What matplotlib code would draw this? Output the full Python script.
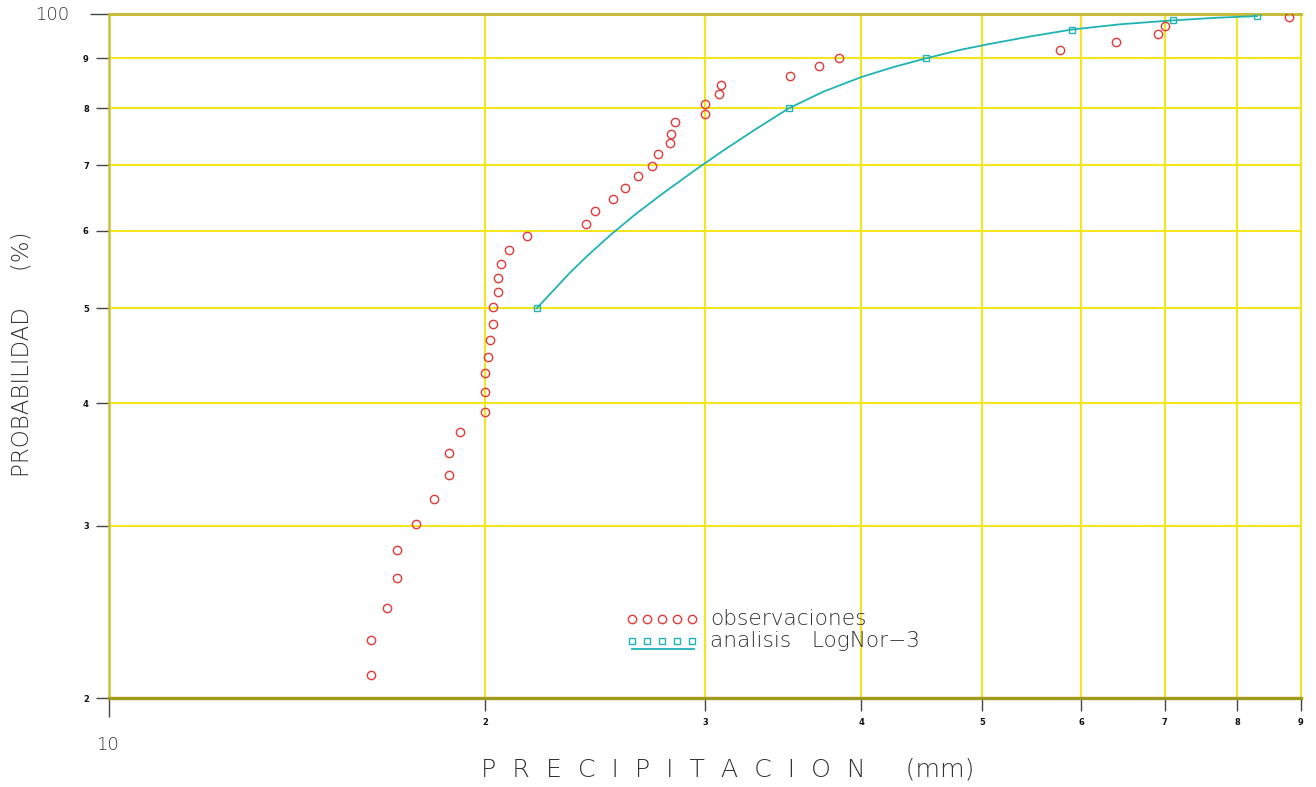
import matplotlib
matplotlib.use('Agg')
import matplotlib.pyplot as plt

###########################################
####   DATA   #############################
###########################################

# Observed precipitation (mm) and its plotting-position probability (%)
obs_mm = [16.2, 16.2, 16.7, 17.0, 17.0, 17.6, 18.2, 18.7, 18.7, 19.1,
          20.0, 20.0, 20.0, 20.1, 20.2, 20.3, 20.3, 20.5, 20.5, 20.6,
          20.9, 21.6, 24.1, 24.5, 25.3, 25.9, 26.5, 27.2, 27.5, 28.1,
          28.2, 28.4, 30.0, 30.0, 30.8, 30.9, 35.1, 37.0, 38.4, 57.7,
          64.0, 69.2, 70.1, 88.1]
obs_prob = [21.1, 22.9, 24.7, 26.5, 28.3, 30.1, 31.9, 33.8, 35.6, 37.4,
            39.2, 41.1, 42.9, 44.6, 46.4, 48.2, 50.1, 51.9, 53.7, 55.5,
            57.4, 59.2, 61.0, 62.8, 64.6, 66.4, 68.2, 69.9, 71.8, 73.7,
            75.4, 77.4, 79.0, 80.9, 82.7, 84.6, 86.4, 88.3, 90.0, 91.7,
            93.6, 95.4, 97.2, 99.1]

# LogNormal (3 param) fitted curve
fit_mm = [22.0, 23.4, 24.2, 25.2, 26.4, 27.8, 29.6, 31.0, 33.0,
          35.0, 37.3, 40.0, 42.5, 45.1, 48.0, 50.5, 54.5, 59.0, 64.5,
          71.1, 77.0, 83.0]
fit_prob = [50.0, 54.4, 56.7, 59.4, 62.4, 65.6, 69.5, 72.4, 76.3,
            80.0, 83.2, 86.1, 88.2, 90.0, 91.8, 93.0, 94.7, 96.3, 97.5,
            98.4, 99.0, 99.4]

# design quantiles marked on the fitted curve
quant_mm = [22.0, 35.0, 45.1, 59.0, 71.1, 83.0]
quant_prob = [50.0, 80.0, 90.0, 96.3, 98.4, 99.4]

x_ticks = [10, 20, 30, 40, 50, 60, 70, 80, 90]
x_tick_labels = ['', '2', '3', '4', '5', '6', '7', '8', '9']
y_ticks = [20, 30, 40, 50, 60, 70, 80, 90, 100]
y_tick_labels = ['2', '3', '4', '5', '6', '7', '8', '9', '']

###########################################
####   STYLE   ############################
###########################################

W, H = 1316, 787
red = '#e23a3a'
cyan = '#1fb3b3'
grid_yellow = '#f3e51e'
txt = '#333333'
font = ['DejaVu Sans']

fig = plt.figure(figsize=(W / 100, H / 100), dpi=100)
ax = fig.add_axes([109 / W, 1 - 698 / H, 1192 / W, 684.5 / H])

ax.set_xscale('log')
ax.set_yscale('log')
ax.set_xlim(10, 90)
ax.set_ylim(20, 100)

ax.set_xticks(x_ticks)
ax.set_xticklabels(x_tick_labels)
ax.set_yticks(y_ticks)
ax.set_yticklabels(y_tick_labels)
ax.minorticks_off()
ax.tick_params(axis='both', length=9.5, width=1, color='#444',
               labelsize=6, labelcolor='#111', pad=5)
for lab in ax.get_xticklabels() + ax.get_yticklabels():
    lab.set_fontweight('bold')
    lab.set_family(font)

# longer ticks at the decade ends
ax.xaxis.get_major_ticks()[0].tick1line.set_markersize(14)
ax.yaxis.get_major_ticks()[-1].tick1line.set_markersize(14)

ax.grid(True, which='major', color=grid_yellow, lw=1.5, zorder=0)
ax.set_axisbelow(True)

ax.spines['left'].set_color('#c9c13c')
ax.spines['left'].set_linewidth(1.8)
ax.spines['bottom'].set_color('#a09b1c')
ax.spines['bottom'].set_linewidth(2.4)
ax.spines['top'].set_color('#c4bc3c')
ax.spines['top'].set_linewidth(2.2)
ax.spines['right'].set_color(grid_yellow)
ax.spines['right'].set_linewidth(1.5)

###########################################
####   MARKS   ############################
###########################################

ax.plot(fit_mm, fit_prob, '-', color=cyan, lw=1.3, zorder=3)
ax.plot(quant_mm, quant_prob, 's', mfc='none', mec=cyan, ms=4.5,
        mew=1.0, zorder=4)
ax.plot(obs_mm, obs_prob, 'o', mfc='none', mec=red, ms=6, mew=1.0,
        zorder=5)

# hand-drawn legend, in axes fraction
leg_x = [(p - 109) / 1192 for p in [632, 647, 662, 677, 692]]
ax.plot(leg_x, [(698 - 619) / 684] * 5, 'o', mfc='none', mec=red, ms=6,
        mew=1.0, transform=ax.transAxes, clip_on=False, zorder=5)
ax.plot(leg_x, [(698 - 641) / 684] * 5, 's', mfc='none', mec=cyan, ms=4.5,
        mew=1.0, transform=ax.transAxes, clip_on=False, zorder=5)
ax.plot([(632 - 109) / 1192, (694 - 109) / 1192],
        [(698 - 649.5) / 684] * 2, '-', color=cyan, lw=1.3,
        transform=ax.transAxes, clip_on=False, zorder=5)
ax.text((710 - 109) / 1192, (698 - 619) / 684, 'observaciones',
        transform=ax.transAxes, ha='left', va='center', fontsize=15.6,
        color=txt, family=font, fontweight='light')
ax.text((710 - 109) / 1192, (698 - 641) / 684, 'analisis   LogNor\u22123',
        transform=ax.transAxes, ha='left', va='center', fontsize=15.6,
        color=txt, family=font, fontweight='light')

###########################################
####   LABELS   ###########################
###########################################

fig.text(107 / W, 1 - 745 / H, '10', ha='center', va='center',
         fontsize=13, color=txt, family=font, fontweight='light')
fig.text(52 / W, 1 - 15 / H, '100', ha='center', va='center',
         fontsize=13, color=txt, family=font, fontweight='light')

fig.text(728 / W, 1 - 769 / H,
         '  '.join('PRECIPITACION') + '     (mm)',
         ha='center', va='center', fontsize=18.2, color=txt,
         family=font, fontweight='light')
fig.text(22 / W, 1 - 354 / H, 'PROBABILIDAD     (%)', rotation=90,
         ha='center', va='center', fontsize=16.5, color=txt,
         family=font, fontweight='light')

fig.savefig('out.png', dpi=100, facecolor='white')
